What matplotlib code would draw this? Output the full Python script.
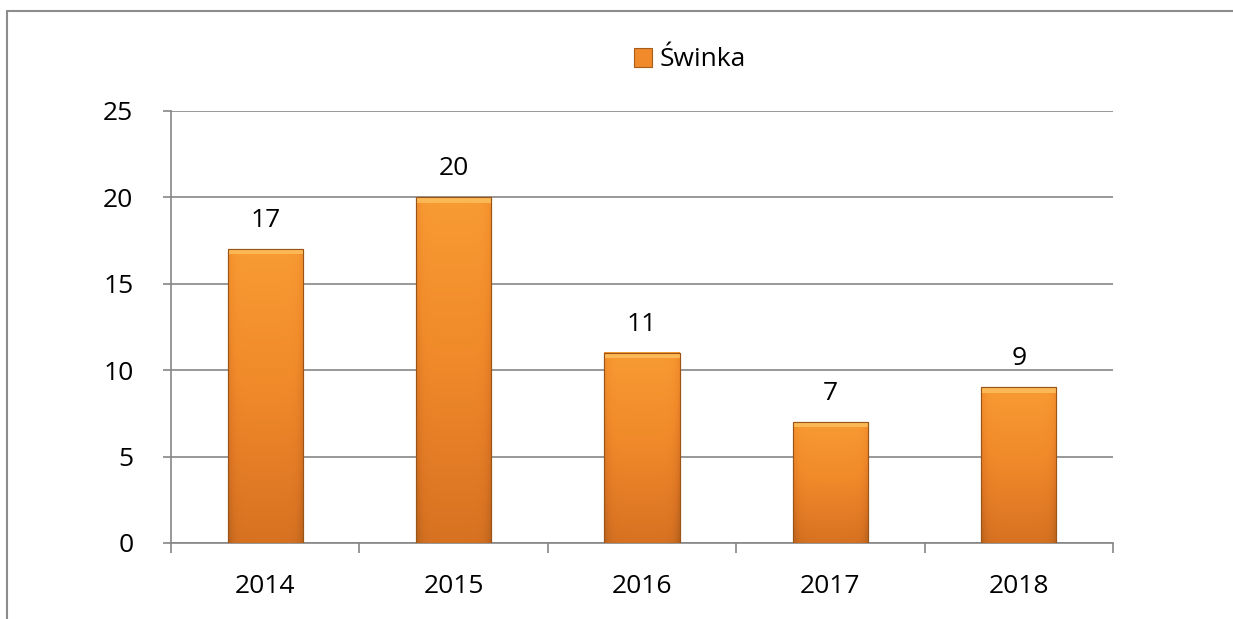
import numpy as np
import matplotlib.pyplot as plt
from matplotlib.patches import Rectangle
from matplotlib.colors import LinearSegmentedColormap

years = ['2014', '2015', '2016', '2017', '2018']
values = [17, 20, 11, 7, 9]
series_name = 'Świnka'

plt.rcParams['font.family'] = ['Open Sans', 'DejaVu Sans']
fs = 19

fig = plt.figure(figsize=(12.33, 6.19), dpi=100)
# outer chart border
fig.patches.append(Rectangle((7 / 1233, -0.1), 1.2, (619 - 11) / 619 + 0.1,
                             transform=fig.transFigure, fill=False,
                             edgecolor='#8c8c8c', linewidth=1.5))

ax = fig.add_axes([171 / 1233, 1 - 543 / 619, (1113 - 171) / 1233, (543 - 111) / 619])

x = np.arange(len(years))
bars = ax.bar(x, values, width=0.4, color='#f08a2a', edgecolor='#a65c1a',
              linewidth=0.8, zorder=3, label=series_name)

# gradient / bevel fill for each bar
cmap = LinearSegmentedColormap.from_list('orng', ['#b5601c', '#dc7523', '#f08a2a', '#f89b33'])
grad = np.linspace(0.1, 1, 256).reshape(-1, 1) * np.ones((1, 64))
xs = np.abs(np.linspace(-1, 1, 64))
grad = grad - 0.35 * xs ** 8
for b in bars:
    bx, bw, bh = b.get_x(), b.get_width(), b.get_height()
    ax.imshow(grad, cmap=cmap, origin='lower', aspect='auto',
              extent=(bx, bx + bw, 0, bh), zorder=3.5, vmin=-0.25, vmax=1)
    # top bevel highlight
    ax.add_patch(Rectangle((bx, bh - 0.3), bw, 0.3, facecolor='#fbb854',
                           edgecolor='none', zorder=3.6))
    ax.add_patch(Rectangle((bx, 0), bw, bh, fill=False, edgecolor='#9a5418',
                           linewidth=0.8, zorder=3.7))

for b, v in zip(bars, values):
    ax.text(b.get_x() + b.get_width() / 2, v + 0.95, str(v), ha='center',
            va='bottom', fontsize=fs, color='black')

ax.set_xlim(-0.5, len(years) - 0.5)
ax.set_ylim(0, 25)
ax.set_yticks(range(0, 26, 5))
ax.yaxis.grid(True, color='#868686', linewidth=1.2, zorder=0)
ax.set_axisbelow(True)

ax.set_xticks(x)
ax.set_xticklabels(years)
ax.set_xticks(np.arange(-0.5, len(years), 1), minor=True)
ax.tick_params(axis='x', which='major', length=0, pad=22, labelsize=fs)
ax.tick_params(axis='x', which='minor', length=7, color='#868686', width=1.2)
ax.tick_params(axis='y', length=6, color='#868686', width=1.2, labelsize=fs, pad=21)

for s in ['top', 'right']:
    ax.spines[s].set_visible(False)
ax.spines['left'].set_color('#868686')
ax.spines['bottom'].set_color('#868686')
ax.spines['left'].set_linewidth(1.2)
ax.spines['bottom'].set_linewidth(1.2)

ax.legend(loc='center', bbox_to_anchor=((690 - 171) / (1113 - 171), (543 - 60) / (543 - 111)),
          frameon=False, fontsize=fs, handlelength=0.7, handleheight=0.7, handletextpad=0.3)

fig.savefig('out.png', dpi=100)
